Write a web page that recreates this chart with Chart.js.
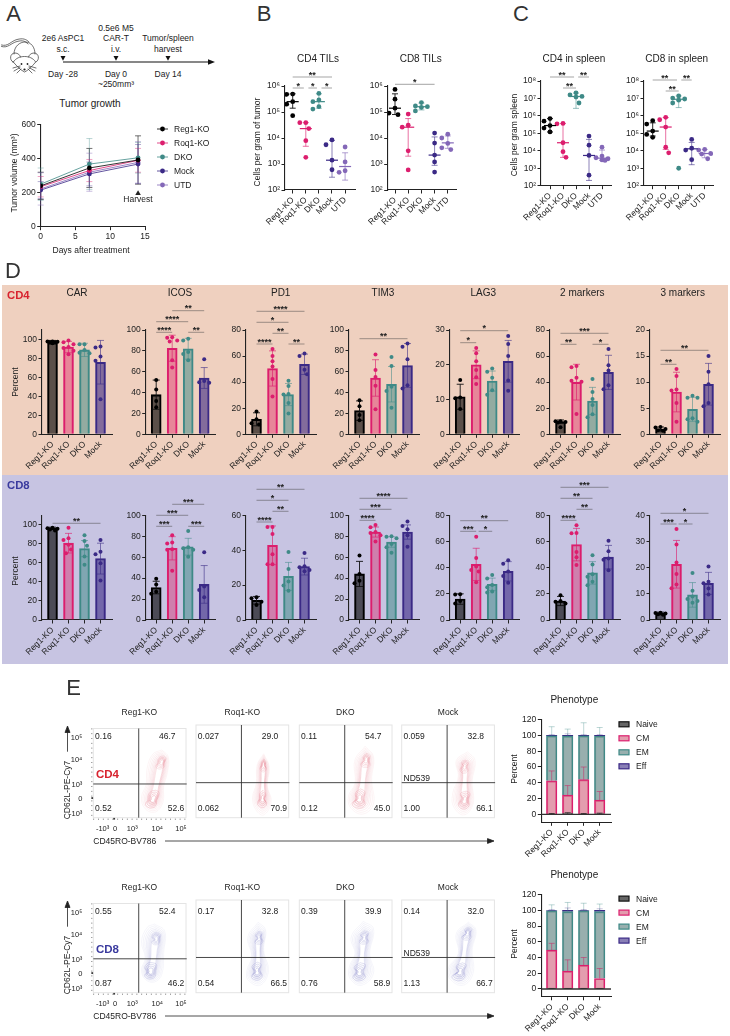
<!doctype html>
<html><head><meta charset="utf-8"><title>CAR-T figure</title>
<script src="https://cdn.jsdelivr.net/npm/chart.js@4"></script>
<style>
html,body{margin:0;padding:0;background:#fff}
#fig{position:relative;width:730px;height:1036px;overflow:hidden;font-family:"Liberation Sans",Arial,sans-serif;color:#222}
#fig canvas,#fig svg,.t,.bg{position:absolute}
.t{white-space:nowrap;line-height:1}
</style></head><body><div id="fig"></div>
<script>
// ---------- categories / ticks ----------
const CATS4=['Reg1-KO','Roq1-KO','DKO','Mock'];
const CATS5=['Reg1-KO','Roq1-KO','DKO','Mock','UTD'];
const STAGES=['Naive','CM','EM','Eff'];
const LOG6_TICKS=[1e2,1e3,1e4,1e5,1e6];
const LOG6_LABELS=['10²','10³','10⁴','10⁵','10⁶'];
const LOG8_TICKS=[1e2,1e3,1e4,1e5,1e6,1e7,1e8];
const LOG8_LABELS=['10²','10³','10⁴','10⁵','10⁶','10⁷','10⁸'];
const T100=[0,20,40,60,80,100], T80=[0,20,40,60,80], T60=[0,20,40,60], T40=[0,10,20,30,40], T30=[0,10,20,30], T20=[0,5,10,15,20], T120=[0,20,40,60,80,100,120];
// ---------- panel A ----------
const A_DAYS=[0,7,14];
const A_REG1=[240,345,392], A_REG1_ERR=[80,115,142];
const A_ROQ1=[235,330,390], A_ROQ1_ERR=[60,65,70];
const A_DKO=[250,368,405], A_DKO_ERR=[95,150,90];
const A_MOCK=[215,310,368], A_MOCK_ERR=[50,70,115];
const A_UTD=[222,320,378], A_UTD_ERR=[95,112,122];
const A_HARVEST=[{x:14,y:195}];
// ---------- panel B ----------
const B_CD4=[[4.9e5,4.8e5,2.5e5,2.0e5,7.2e4],[3.9e4,3.9e4,2.3e4,7.9e3,1.8e3],[5.2e5,2.9e5,2.5e5,1.6e5,1.3e5],[8.4e3,5.5e3,1.4e3,6e2],[4.5e3,1.2e3,5.5e2,4.8e2]];
const B_CD4_MED=[2.5e5,2.3e4,2.5e5,1.4e3,8e2], B_CD4_LO=[1.4e5,4.8e3,1.4e5,3.1e2,2.4e2], B_CD4_HI=[5e5,3.9e4,5e5,8e3,2.7e3];
const B_CD8=[[7.4e5,3.1e5,1.4e5,9.1e4,7.9e4],[8.3e4,3.1e4,2.6e4,3.2e3,5.9e2],[2.3e5,1.7e5,1.6e5,1.5e5,1.1e5],[1.55e4,6.4e3,2.2e3,1.2e3,4.9e2],[1.4e4,1.0e4,6.2e3,4.2e3,3.6e3]];
const B_CD8_MED=[1.4e5,2.6e4,1.6e5,2.2e3,6.5e3], B_CD8_LO=[8e4,2e3,1.2e5,8.9e2,4e3], B_CD8_HI=[5e5,5.6e4,2.2e5,1.1e4,1.2e4];
// ---------- panel C ----------
const C_CD4=[[7e5,5e5,2.8e5,2e5,1.2e5],[3.7e5,3.5e5,2.9e4,8.9e3,4.2e3],[2.1e7,1.6e7,1.3e7,1.2e7,5.5e6],[7e4,2.1e4,5.4e3,4e2],[1.6e4,5e3,4e3,3.5e3,3e3,2.8e3]];
const C_CD4_MED=[2.8e5,2.9e4,1.3e7,5.4e3,3.8e3], C_CD4_LO=[1.2e5,4.2e3,2.7e6,2e2,2.8e3], C_CD4_HI=[7e5,3.7e5,2e7,4.5e4,1.1e4];
const C_CD8=[[5.3e5,3.4e5,1.35e5,8.7e4,5.9e4],[8.3e5,6e5,2.3e5,1.6e4,7.7e3],[1.4e7,1.05e7,9.3e6,8e6,5.5e6,1e3],[4.5e4,1.4e4,1.1e4,3.1e3],[1.2e4,1.1e4,7e3,6.5e3,3.5e3]];
const C_CD8_MED=[1.35e5,2.3e5,9e6,1.3e4,7e3], C_CD8_LO=[7e4,1.2e4,3e6,1.6e3,4e3], C_CD8_HI=[4e5,8e5,1.4e7,3e4,1.2e4];
// ---------- panel D, CD4 ----------
const D4_CAR=[[98,97.5,97,97,96,98],[99,97,95,92,91,88,84.5],[95,95,89,86,85.5],[92.6,91.5,82,77.5,37]];
const D4_CAR_MEAN=[97,92,89,76], D4_CAR_TOP=[99,98,96,99];
const D4_ICOS=[[52,43,32,26],[93,92.5,90,89,71,64],[91.5,90,79,77,71],[72,51,50,49.5]];
const D4_ICOS_MEAN=[38,82.5,82,54], D4_ICOS_TOP=[52,95,92,64];
const D4_PD1=[[17.5,11.5,8.5,7.5],[65.5,60,56,52,42.5,29],[41,37,31,30.5,24,16],[62,60,49.5,46]];
const D4_PD1_MEAN=[11.5,50.5,30.5,53.7], D4_PD1_TOP=[16.5,64,39,61.5];
const D4_TIM3=[[32.6,27,18.5,13.4],[76.6,61.7,55,46.6,24],[74,65.5,45.7,41.5,25.5],[87,84,72,47,44]];
const D4_TIM3_MEAN=[22.7,54,48,66], D4_TIM3_TOP=[32,71.5,65,87];
const D4_LAG3=[[15.6,10.6,10.4,7.3],[24.8,23.3,21,18.5,16.4,14.5],[18.9,18,16.3,12.7,11.4],[28.3,26,22.5,15.5,12.5]];
const D4_LAG3_MEAN=[10.8,20,15.3,21], D4_LAG3_TOP=[14.4,24,18.2,27];
const D4_M2=[[10,10,9.5,9,5.5],[52.4,51.4,43.3,41,40.4,15.6],[42.5,32.5,27,22.5,15.3,13],[65.5,53,49,37.6,34.5]];
const D4_M2_MEAN=[9.7,40,25.5,47.5], D4_M2_TOP=[11,53.7,36,60.6];
const D4_M3=[[1.4,1.3,1,0.8,0.7],[12.5,11.2,8.6,8.4,6,2.4],[7.4,7,7,3.1,2.9,2.4],[15,12,9.6,6,5.4]];
const D4_M3_MEAN=[1,8.1,4.8,9.6], D4_M3_TOP=[1.4,11.9,7.1,13.6];
// ---------- panel D, CD8 ----------
const D8_CAR=[[97,96.5,96,95,94],[97,86,84,79,74,70],[89,83,78,66.7,58],[84,71.6,69,59.6,41.4]];
const D8_CAR_MEAN=[96.5,80.7,75,64.5], D8_CAR_TOP=[97.5,91,83.5,80.7];
const D8_ICOS=[[39.5,34,27,25],[81,74,73,67.5,67,47],[85,69.4,68.5,67,60.5],[64.6,32,28.7,21.7]];
const D8_ICOS_MEAN=[31,68.5,70,34], D8_ICOS_TOP=[37,79.6,78,52];
const D8_PD1=[[13,12.4,10.5,8.6],[53.3,53.3,49.3,37.7,32,32],[39,29.2,22,19.7,16.8],[38.4,30.8,30.2,28.7,28]];
const D8_PD1_MEAN=[11.3,42.8,25,30.6], D8_PD1_TOP=[13.5,53.9,33,35.4];
const D8_TIM3=[[61.5,44,37.6,35],[90.8,88.5,84,83,81,75],[80,79.6,78,72.6,69.4,64.3],[94,89.8,86.6,81,70]];
const D8_TIM3_MEAN=[44,84,74.5,84], D8_TIM3_TOP=[56,88.8,79.5,90.8];
const D8_LAG3=[[19.7,19.5,14.5,12.7],[63.7,47.4,40.8,38.2,37,28.8],[34.4,31.8,26.8,25,21.7,21],[45.6,43,37,33.6,28.5]];
const D8_LAG3_MEAN=[16,42.5,27.3,37.2], D8_LAG3_TOP=[20,54.8,32,44.6];
const D8_M2=[[19,14.5,14,12.7],[72.4,66.5,66.2,52,48,42],[49.4,42.5,35,33,29.3,26.5],[60.6,52.5,47,46,38]];
const D8_M2_MEAN=[14.5,57.6,36,48], D8_M2_TOP=[18,70,44.6,57];
const D8_M3=[[2.8,2.7,2.5,2.2,2],[34.8,28.8,22,17.6,13.6,12.1],[18,11.2,9,8,7.3,6.6],[20.4,14.6,14,12,9.7]];
const D8_M3_MEAN=[2.5,21.3,9.6,14], D8_M3_TOP=[3,30.4,14.3,18.2];
// ---------- panel E, stacked phenotype ----------
const E4_NAIVE=[0.5,1,0.5,0.7], E4_CM=[42,23.5,43.5,17.5], E4_EM=[56.8,74.5,55.3,81], E4_EFF=[0.7,1,0.7,0.8];
const E4_TOPS=[[1,2,1,1.5],[55,36.5,60,29],[111,108,116,110],[101,102,101,101]];
const E8_NAIVE=[0.3,0.3,0.3,0.3], E8_CM=[49,22.5,30,13], E8_EM=[50,75.5,69,85], E8_EFF=[0.7,1.7,0.7,1.7];
const E8_TOPS=[[0.6,0.6,0.6,0.6],[58,37,40,26],[107,110,109,108],[101,103,101,102]];
// ---------- panel E, quadrant percentages ----------
const E4_QUAD=[['0.16','46.7','0.52','52.6'],['0.027','29.0','0.062','70.9'],['0.11','54.7','0.12','45.0'],['0.059','32.8','1.00','66.1']];
const E8_QUAD=[['0.55','52.4','0.87','46.2'],['0.17','32.8','0.54','66.5'],['0.39','39.9','0.76','58.9'],['0.14','32.0','1.13','66.7']];
// outer contour outlines and density peaks, in percent of the plot box
const E4_OUT=[
 [[74,76],[81,68],[80,51],[76,35],[75,17],[67,6.5],[56,10],[52,23],[57,37],[58,55],[64,71]],
 [[73,69],[79,55],[77,35],[81,17],[73,3],[65,8],[61,21],[65,37],[66,57]],
 [[71,77],[80,66],[78,41],[80,15],[69,4],[56,10],[53,23],[60,37],[60,62]],
 [[71,71],[79,62],[76,39],[77,15],[67,3],[56,12],[55,26],[61,44],[59,62]]];
const E4_PEAK=[[[74,62],[65,21]],[[73,57],[72,21]],[[72,62],[65,21]],[[68,55],[68,19]]];
const E8_OUT=[
 [[66,77],[77,69],[76,46],[74,21],[66,12],[56,15],[52,26],[56,39],[52,57],[58,73]],
 [[67,76],[75,68],[73,46],[78,23],[69,8],[56,14],[55,24],[60,39],[56,60]],
 [[69,77],[80,69],[76,42],[80,21],[67,8],[55,15],[54,28],[60,42],[56,60]],
 [[72,76],[80,68],[76,46],[77,21],[66,8],[52,15],[50,26],[61,42],[59,64]]];
const E8_PEAK=[[[68,60],[62,24]],[[68,59],[66,23]],[[70,59],[65,22]],[[71,64],[63,23]]];
const FLOW_X=[10,23.4,42,69,94.6], FLOW_X_LABELS=['-10³','0','10³','10⁴','10⁵'];
const FLOW_Y=[4,21,37,65,89], FLOW_Y_LABELS=['-10³','0','10³','10⁴','10⁵'];
const FLOW_EVENTS=[{x:-1,y:22},{x:22.5,y:-1}];
// ---------- significance brackets: from group, to group, line height on page, stars ----------
const SIG_B4=[[0,3,77,'**'],[0,.85,88,'*'],[1.2,1.85,88,'*'],[2.2,3,88,'*']];
const SIG_B8=[[0,3,84.3,'*']];
const SIG_C4=[[0,1.85,77,'**'],[2.17,3,77,'**'],[1,2,88,'**']];
const SIG_C8=[[0,1.87,80,'**'],[2.2,3,80,'**'],[1,2,91,'**']];
const SIG4_ICOS=[[1,3,310.7,'**'],[0,2,321.7,'****'],[0,1,332.3,'****'],[2,3,332.3,'**']];
const SIG4_PD1=[[0,3,311.3,'****'],[0,2,322.3,'*'],[1,2,333.3,'**'],[0,1,344,'****'],[2,3,344,'**']];
const SIG4_TIM3=[[0,3,338.7,'**']];
const SIG4_LAG3=[[0,3,330.7,'*'],[0,1,342.7,'*']];
const SIG4_M2=[[0,3,333.3,'***'],[0,1,344.3,'**'],[2,3,344.3,'*']];
const SIG4_M3=[[0,3,350.3,'**'],[0,1,364.3,'**']];
const SIG8_CAR=[[0,3,523.3,'**']];
const SIG8_ICOS=[[1,3,504.3,'***'],[0,2,515.3,'***'],[0,1,526.3,'***'],[2,3,526.3,'***']];
const SIG8_PD1=[[0,3,489.3,'**'],[0,2,500.3,'*'],[1,2,511.3,'**'],[0,1,522,'****']];
const SIG8_TIM3=[[0,3,498.3,'****'],[0,2,509.3,'***'],[0,1,520.3,'****']];
const SIG8_LAG3=[[0,3,520.7,'**'],[0,1,531.3,'***'],[1.15,2,531.3,'*']];
const SIG8_M2=[[0,3,487.3,'***'],[0,2,498.3,'**'],[1,2,509.3,'**'],[0,1,520.3,'****']];
const SIG8_M3=[[0,3,513.3,'*'],[0,1,524,'***'],[1.13,2,524,'*']];

// ---------- styling ----------
const INK=['#000000','#dc1e6e','#3f8a87','#3b2a86','#8468b8'];
const FILL=['rgba(0,0,0,.62)','rgba(220,30,100,.42)','rgba(63,138,135,.52)','rgba(59,42,134,.6)'];
const ERR=['#111','rgba(220,30,110,.7)','rgba(63,138,135,.6)','rgba(59,42,134,.65)','rgba(132,104,184,.7)'];
const STACK_INK=['#111','#dc1e6e','#3f8a87','#3b2a86'];
const STACK_FILL=['rgba(0,0,0,.6)','rgba(214,110,135,.68)','rgba(120,150,148,.76)','rgba(59,42,134,.6)'];
const STACK_ERR=['#222','rgba(200,40,100,.6)','rgba(63,138,135,.38)','rgba(59,42,134,.3)'];
const FONT='"Liberation Sans", Arial, sans-serif';
Chart.defaults.font.family=FONT; Chart.defaults.font.size=8.5; Chart.defaults.color='#222';
const fig=document.getElementById('fig');
function txt(x,y,s,o={}){const d=document.createElement('div');d.className='t';d.textContent=s;
 const tx=o.align==='l'?'0':o.align==='r'?'-100%':'-50%';
 d.style.cssText=`left:${x}px;top:${y}px;font-size:${o.size||8.5}px;color:${o.color||'#222'};font-weight:${o.weight||'normal'};transform:translate(${tx},-50%)${o.rot?` rotate(${o.rot}deg)`:''};z-index:5`;
 d.textContent=s;fig.appendChild(d);}
function bg(x,y,w,h,c){const d=document.createElement('div');d.className='bg';d.style.cssText=`left:${x}px;top:${y}px;width:${w}px;height:${h}px;background:${c}`;fig.appendChild(d);}

function frame(L,R,top,bot,yW,padTop,padR,xH){
 const left=Math.floor(L-yW), tp=Math.floor(top-padTop);
 const w=Math.ceil(R+padR-left), h=Math.ceil(bot+xH-tp);
 const c=document.createElement('canvas');c.width=w;c.height=h;
 c.style.cssText=`left:${left}px;top:${tp}px;width:${w}px;height:${h}px`;fig.appendChild(c);
 return {c,left,top:tp,yW:L-left,padTop:top-tp,padR:w-(R-left),xH:h-(bot-tp)};
}
function axis(f,horizontal,ticks,labels,extra={}){
 const s=Object.assign({offset:false,grid:{offset:false,drawOnChartArea:false,drawTicks:true,tickLength:3.5,color:'#222',lineWidth:1},
  border:{color:'#222',width:1.1},
  afterBuildTicks:a=>{a.ticks=ticks.map(value=>({value}));},
  afterFit:a=>{if(horizontal)a.height=f.xH;else a.width=f.yW;},
  ticks:{autoSkip:false,padding:1.5,color:'#222',font:{size:8.5},includeBounds:false,callback:labels?((v,i)=>labels[i]):(v=>v)}},extra);
 if(horizontal){s.ticks.minRotation=45;s.ticks.maxRotation=45;}
 return s;
}
function build(f,datasets,sx,sy,plugin){
 return new Chart(f.c,{type:'scatter',data:{datasets},plugins:plugin?[plugin]:[],
  options:{responsive:false,animation:false,devicePixelRatio:1,events:[],
   layout:{autoPadding:false,padding:{top:f.padTop,right:f.padR,left:0,bottom:0}},
   plugins:{legend:{display:false},title:{display:false},tooltip:{enabled:false}},
   scales:{x:sx,y:sy}}});
}
function drawBrackets(ctx,chart,sig,f){
 const X=chart.scales.x;ctx.save();
 for(const [a,b,y,s] of sig){const yy=y-f.top;
  ctx.strokeStyle='rgba(70,70,70,.62)';ctx.lineWidth=.8;ctx.beginPath();ctx.moveTo(X.getPixelForValue(a),yy);ctx.lineTo(X.getPixelForValue(b),yy);ctx.stroke();
  ctx.fillStyle='#222';ctx.font=`bold 9px ${FONT}`;ctx.textAlign='center';ctx.textBaseline='alphabetic';
  ctx.fillText(s,(X.getPixelForValue(a)+X.getPixelForValue(b))/2,yy+.5);}
 ctx.restore();
}
function vErr(ctx,x,y1,y2,cap,color,lw){ctx.strokeStyle=color;ctx.lineWidth=lw;ctx.beginPath();ctx.moveTo(x,y1);ctx.lineTo(x,y2);
 ctx.moveTo(x-cap,y1);ctx.lineTo(x+cap,y1);ctx.moveTo(x-cap,y2);ctx.lineTo(x+cap,y2);ctx.stroke();}
// spreads points of one group sideways so that they do not overlap, like a Prism swarm
function swarm(vals,px,step,r,maxPx){
 const order=vals.map((v,i)=>({y:px(v),i})).sort((a,b)=>a.y-b.y), out=[],placed=[];
 const inc=r*1.25,cands=[0];for(let k=1;k*inc<=maxPx;k++){cands.push(k%2?k*inc:-k*inc);cands.push(k%2?-k*inc:k*inc);}
 order.forEach(p=>{let best=0,bestD=-1;
  for(const c of cands){let d=1e9;for(const q of placed)d=Math.min(d,Math.hypot(c-q.x,p.y-q.y));
   if(d>=2*r*1.3){best=c;bestD=1e9;break;} if(d>bestD){bestD=d;best=c;}}
  placed.push({x:best,y:p.y});out[p.i]=best/step;});
 return out;
}
// ---------- bar + dots panel (D) ----------
function barPanel(L,top,bot,ymax,ticks,pts,mean,tops,sig){
 const R=L+70,c0=L+10.5,step=16,f=frame(L,R,top,bot,40,48,4,46),H=bot-top,px=v=>bot-v/ymax*H;
 const dots=[],colors=[];
 pts.forEach((g,i)=>{const off=swarm(g,px,step,2,5.5);g.forEach((v,j)=>{dots.push({x:i+off[j],y:v});colors.push(INK[i]);});});
 const bars={type:'bar',order:2,data:mean.map((y,x)=>({x,y})),backgroundColor:FILL,borderColor:INK,borderWidth:1.4,barThickness:10};
 const pt={type:'scatter',order:1,data:dots,pointRadius:2,pointBackgroundColor:colors,pointBorderWidth:0};
 build(f,[bars,pt],axis(f,true,[0,1,2,3],CATS4,{min:-10.5/16,max:59.5/16}),axis(f,false,ticks,null,{min:0,max:ymax}),{id:'ov',
  afterDatasetDraw(ch,a){if(a.index!==0)return;const X=ch.scales.x,Y=ch.scales.y,ctx=ch.ctx;ctx.save();
   mean.forEach((m,i)=>{const e=tops[i]-m;vErr(ctx,X.getPixelForValue(i),Y.getPixelForValue(m+e),Y.getPixelForValue(Math.max(0,m-e)),3.5,ERR[i],.9);});ctx.restore();},
  afterDatasetsDraw(ch){drawBrackets(ch.ctx,ch,sig||[],f);}});
}
// ---------- log swarm panel (B, C) ----------
function swarmPanel(L,R,top,bot,c0,step,lmin,lmax,ticks,labels,pts,med,lo,hi,sig){
 const f=frame(L,R,top,bot,40,26,4,46),H=bot-top,px=v=>bot-(Math.log10(v)-lmin)/(lmax-lmin)*H;
 const dots=[],colors=[];
 pts.forEach((g,i)=>{const off=swarm(g,px,step,2.4,6.5);g.forEach((v,j)=>{dots.push({x:i+off[j],y:v});colors.push(INK[i]);});});
 const pt={type:'scatter',data:dots,pointRadius:2.4,pointBackgroundColor:colors,pointBorderWidth:0};
 build(f,[pt],axis(f,true,[0,1,2,3,4],CATS5,{min:-(c0-L)/step,max:(R-c0)/step}),axis(f,false,ticks,labels,{type:'logarithmic',min:10**lmin,max:10**lmax}),{id:'ov',
  afterDatasetsDraw(ch){const X=ch.scales.x,Y=ch.scales.y,ctx=ch.ctx;ctx.save();
   med.forEach((m,i)=>{const x=X.getPixelForValue(i),y=Y.getPixelForValue(m);vErr(ctx,x,Y.getPixelForValue(hi[i]),Y.getPixelForValue(lo[i]),3,ERR[i],.9);
    ctx.strokeStyle=INK[i];ctx.lineWidth=1.2;ctx.beginPath();ctx.moveTo(x-6,y);ctx.lineTo(x+6,y);ctx.stroke();});
   ctx.restore();drawBrackets(ctx,ch,sig||[],f);}});
}
// ---------- stacked phenotype panel ----------
function stackPanel(top,bot,series,tops){
 const L=541.3,R=611,f=frame(L,R,top,bot,40,4,30,46);
 const ds=series.map((vals,k)=>({type:'bar',stack:'s',data:vals.map((y,x)=>({x,y})),backgroundColor:STACK_FILL[k],borderColor:STACK_INK[k],borderWidth:1.3,barThickness:10.5}));
 const sx=axis(f,true,[0,1,2,3],CATS4,{min:-10.4/16,max:59.3/16});
 const sy=axis(f,false,T120,null,{min:-10,max:120,stacked:true});
 build(f,ds,sx,sy,{id:'ov',
  afterDatasetsDraw(ch){const Y=ch.scales.y,X=ch.scales.x,ctx=ch.ctx;ctx.save();
   tops.forEach((t,k)=>{series[k].forEach((_,i)=>{let cum=0;for(let q=0;q<=k;q++)cum+=series[q][i];
     const x=X.getPixelForValue(i);ctx.strokeStyle=STACK_ERR[k];ctx.lineWidth=.9;ctx.beginPath();ctx.moveTo(x,Y.getPixelForValue(cum));ctx.lineTo(x,Y.getPixelForValue(t[i]));
     ctx.moveTo(x-3,Y.getPixelForValue(t[i]));ctx.lineTo(x+3,Y.getPixelForValue(t[i]));ctx.stroke();});});
   ctx.strokeStyle='#333';ctx.lineWidth=1.4;ctx.beginPath();ctx.moveTo(X.left,Y.getPixelForValue(0));ctx.lineTo(X.right,Y.getPixelForValue(0));ctx.stroke();
   STAGES.forEach((s,k)=>{const y=top+6.6+14*k-f.top;ctx.fillStyle=STACK_FILL[k];ctx.strokeStyle=STACK_INK[k];ctx.lineWidth=1.2;ctx.fillRect(619-f.left,y-2.5,10,5);ctx.strokeRect(619-f.left,y-2.5,10,5);});
   ctx.restore();}});
 STAGES.forEach((s,k)=>txt(636,top+6.6+14*k,s,{align:'l'}));
}
// ---------- flow contour panel ----------
const LEVELS=[0,.12,.24,.35,.45,.54,.62,.7];
const RINGS=[.34,.27,.2,.13];
function contours(outline,peaks,rgb){
 const [p,q]=peaks,dx=q[0]-p[0],dy=q[1]-p[1],len=dx*dx+dy*dy;
 const mid=[(p[0]+q[0])/2,(p[1]+q[1])/2];
 const line=(pts,a)=>({type:'line',data:pts,borderColor:`rgba(${rgb},${a})`,borderWidth:.6,pointRadius:0,tension:.42,fill:false});
 const sets=LEVELS.map((t,i)=>{const pts=outline.map(([x,y])=>{let u=((x-p[0])*dx+(y-p[1])*dy)/len;u=Math.max(0,Math.min(1,u));
   const nx=p[0]+u*dx,ny=p[1]+u*dy;return {x:x+t*(nx-x),y:y+t*(ny-y)};});pts.push(pts[0]);
  return line(pts,.1+.028*i);});
 peaks.forEach((pk,j)=>RINGS.forEach((s,i)=>{const w=j===1?1.35:1;const pts=outline.map(([x,y])=>({x:pk[0]+(x-mid[0])*s*w*1.1,y:pk[1]+(y-mid[1])*s*w*.62}));pts.push(pts[0]);
  sets.push(line(pts,(j===1?.34:.24)+.04*i));}));
 return sets;
}
function flowPanel(bx,by,i,out,peaks,rgb,quadY,nums,first,nd){
 const W=92.7,f=frame(bx,bx+W,by,by+W,36,4,6,22);
 const events=first?[{type:'scatter',data:FLOW_EVENTS,pointStyle:'rect',pointRadius:1.3,backgroundColor:'#111',pointBorderWidth:0,clip:false}]:[];
 const sx=axis(f,true,first?FLOW_X:[],FLOW_X_LABELS,{min:0,max:100});sx.ticks.minRotation=0;sx.ticks.maxRotation=0;
 const sy=axis(f,false,first?FLOW_Y:[],FLOW_Y_LABELS,{min:0,max:100});
 [sx,sy].forEach(s=>{s.grid={display:false};s.border={display:false};s.ticks.font={size:7.5};s.ticks.padding=first?3:0;});
 sx.ticks.padding=-1;
 build(f,[...events,...contours(out,peaks,rgb)],sx,sy,{id:'ov',
  afterDatasetsDraw(ch){const a=ch.chartArea,X=ch.scales.x,Y=ch.scales.y,ctx=ch.ctx;ctx.save();
   ctx.strokeStyle='#e4e4e4';ctx.lineWidth=1;ctx.strokeRect(a.left,a.top,a.right-a.left,a.bottom-a.top);
   ctx.strokeStyle='#333';ctx.lineWidth=.9;ctx.beginPath();
   ctx.moveTo(X.getPixelForValue(49),a.top);ctx.lineTo(X.getPixelForValue(49),a.bottom);
   ctx.moveTo(a.left,Y.getPixelForValue(quadY));ctx.lineTo(a.right+.7,Y.getPixelForValue(quadY));ctx.stroke();
   if(first){ctx.strokeStyle='#444';ctx.setLineDash([.8,4]);ctx.beginPath();ctx.moveTo(a.left,a.bottom+1.5);ctx.lineTo(a.right,a.bottom+1.5);
    ctx.moveTo(a.left-1.5,a.top);ctx.lineTo(a.left-1.5,a.bottom);ctx.stroke();}
   ctx.restore();}});
 txt(bx+1.8,by+10.7,nums[0],{align:'l'});txt(bx+82.3,by+10.7,nums[1],{align:'r'});
 txt(bx+1.8,by+82.7,nums[2],{align:'l'});txt(bx+91,by+82.7,nums[3],{align:'r'});
 if(nd)txt(bx+1.8,by+52.5,'ND539',{align:'l'});
}

// ========== page ==========
bg(2,285,726,190,'#efd0bf');bg(2,475,726,189,'#c7c4e2');
const NS='http://www.w3.org/2000/svg',svg=document.createElementNS(NS,'svg');
svg.setAttribute('width',730);svg.setAttribute('height',1036);svg.style.left='0';svg.style.top='0';
svg.innerHTML=`
<g fill="none" stroke="#333" stroke-width=".7" stroke-linecap="round">
 <path d="M1.5 45 C8 47 11 41 17 39.5 S26 39 29 42"/><path d="M1.5 46.5 C8 48.5 11 43 17 41.5 S25 41 28 44"/>
 <path d="M14 54 C14 46 20 42 25 42 C31 42 35 47 35 54"/>
 <path d="M13 62 C9 60 10 53 15 53 C18 53 20 55 20.5 57"/><path d="M36 62 C40 60 39 53 34 53 C31 53 29 55 28.5 57"/>
 <path d="M13.3 62 C15 64 20 70 24.500 72 C29 70 34 64 35.700 62 C33 58 29 56.500 24.500 56.500 C20 56.500 16 58 13.300 62Z"/>
 <path d="M20 66 L13 68 M20 67.500 L14 71 M21 69 L17 73 M29 66 L36 68 M29 67.500 L35 71 M28 69 L32 73"/>
</g>
<circle cx="21.500" cy="64" r=".9" fill="#222"/><circle cx="27.500" cy="64" r=".9" fill="#222"/><circle cx="24.500" cy="69.500" r="1.1" fill="#222"/>
<path d="M63 62 H209" stroke="#111" stroke-width="1.1"/><path d="M215 62 L208 59.300 V64.700Z" fill="#111"/>
<path d="M60.500 56 H65.500 L63 60.800Z M113.500 56 H118.500 L116 60.800Z M165.500 56 H170.500 L168 60.800Z" fill="#111"/>
<g stroke="#222" stroke-width=".8" fill="#222">
 <path d="M67.500 751.700 V731" fill="none"/><path d="M67.500 726 L65 732.500 H70Z"/>
 <path d="M67.500 926.700 V906" fill="none"/><path d="M67.500 901 L65 907.500 H70Z"/>
 <path d="M165 841 H489" fill="none"/><path d="M494 841 L487.500 838.600 V843.400Z"/>
 <path d="M165 1016 H489" fill="none"/><path d="M494 1016 L487.500 1013.600 V1018.400Z"/>
</g>`;
fig.appendChild(svg);

// panel letters
[['A',13.5,14],['B',264,13.5],['C',521,13.5],['D',13,271],['E',73.7,688]].forEach(([s,x,y])=>txt(x,y,s,{size:22,color:'#333'}));
// schematic text
[[63,38,'2e6 AsPC1'],[63,49,'s.c.'],[116,28,'0.5e6 M5'],[116,38,'CAR-T'],[116,49,'i.v.'],[168,38,'Tumor/spleen'],[168,49,'harvest'],[63,74,'Day -28'],[116,74,'Day 0'],[116,84,'~250mm³'],[168,74,'Day 14']].forEach(([x,y,s])=>txt(x,y,s));

// ---------- A: tumor growth ----------
(function(){
 const L=40.7,R=145,top=122,bot=226.7,f=frame(L,R,top,bot,34,4,72,20);
 const names=CATS5,vals=[A_REG1,A_ROQ1,A_DKO,A_MOCK,A_UTD],errs=[A_REG1_ERR,A_ROQ1_ERR,A_DKO_ERR,A_MOCK_ERR,A_UTD_ERR];
 const ds=vals.map((v,k)=>({type:'line',data:v.map((y,i)=>({x:A_DAYS[i],y})),borderColor:INK[k],borderWidth:.8,pointRadius:2.4,pointBackgroundColor:INK[k],pointBorderWidth:0,tension:0}));
 ds.push({type:'scatter',data:A_HARVEST,pointStyle:'triangle',pointRadius:3.2,pointBackgroundColor:'#222',pointBorderWidth:0});
 const sx=axis(f,true,[0,5,10,15],null,{min:0,max:15});sx.ticks.minRotation=0;sx.ticks.maxRotation=0;
 build(f,ds,sx,axis(f,false,[0,200,400,600],null,{min:0,max:600}),{id:'ov',
  beforeDatasetsDraw(ch){const X=ch.scales.x,Y=ch.scales.y,ctx=ch.ctx;ctx.save();
   vals.forEach((v,k)=>v.forEach((m,i)=>vErr(ctx,X.getPixelForValue(A_DAYS[i]),Y.getPixelForValue(m+errs[k][i]),Y.getPixelForValue(m-errs[k][i]),3,ERR[k],.6)));ctx.restore();},
  afterDatasetsDraw(ch){const ctx=ch.ctx;ctx.save();names.forEach((n,k)=>{const y=129+14*k-f.top,x=157-f.left;
    ctx.strokeStyle=INK[k];ctx.lineWidth=.8;ctx.beginPath();ctx.moveTo(x,y);ctx.lineTo(x+11,y);ctx.stroke();
    ctx.fillStyle=INK[k];ctx.beginPath();ctx.arc(x+5.5,y,2.4,0,7);ctx.fill();});ctx.restore();}});
 names.forEach((n,k)=>txt(174,129+14*k,n,{align:'l'}));
 txt(90,104,'Tumor growth',{size:10});txt(14,173,'Tumor volume (mm³)',{rot:-90});txt(91,250,'Days after treatment');txt(138,199,'Harvest');
})();

// ---------- B, C ----------
swarmPanel(285,355,86,190,292.7,13.1,2,6,LOG6_TICKS,LOG6_LABELS,B_CD4,B_CD4_MED,B_CD4_LO,B_CD4_HI,SIG_B4);
swarmPanel(387.7,456.7,86,190,395,13.2,2,6,LOG6_TICKS,LOG6_LABELS,B_CD8,B_CD8_MED,B_CD8_LO,B_CD8_HI,SIG_B8);
swarmPanel(541,611,81,185.7,550,13,2,8,LOG8_TICKS,LOG8_LABELS,C_CD4,C_CD4_MED,C_CD4_LO,C_CD4_HI,SIG_C4);
swarmPanel(644,713,81,185.7,652.7,13,2,8,LOG8_TICKS,LOG8_LABELS,C_CD8,C_CD8_MED,C_CD8_LO,C_CD8_HI,SIG_C8);
txt(318,59,'CD4 TILs',{size:10});txt(420.7,59,'CD8 TILs',{size:10});txt(574,59,'CD4 in spleen',{size:10});txt(676.7,59,'CD8 in spleen',{size:10});
txt(257,142,'Cells per gram of tumor',{rot:-90});txt(514,135,'Cells per gram spleen',{rot:-90});

// ---------- D ----------
const DL=[42,145.7,246,349,449.7,550,650];
const DTITLES=['CAR','ICOS','PD1','TIM3','LAG3','2 markers','3 markers'];
const DTX=[77,180,280.7,383,483.3,582.3,682.7];
DTITLES.forEach((s,i)=>txt(DTX[i],293,s,{size:10}));
txt(7,295.7,'CD4',{align:'l',size:11.3,weight:'bold',color:'#d8232f'});
txt(7,485.7,'CD8',{align:'l',size:11.3,weight:'bold',color:'#3a3a9e'});
txt(15,382,'Percent',{rot:-90});txt(15,571,'Percent',{rot:-90});
[[DL[0],110,T100,D4_CAR,D4_CAR_MEAN,D4_CAR_TOP,[]],[DL[1],100,T100,D4_ICOS,D4_ICOS_MEAN,D4_ICOS_TOP,SIG4_ICOS],[DL[2],80,T80,D4_PD1,D4_PD1_MEAN,D4_PD1_TOP,SIG4_PD1],
 [DL[3],100,T100,D4_TIM3,D4_TIM3_MEAN,D4_TIM3_TOP,SIG4_TIM3],[DL[4],30,T30,D4_LAG3,D4_LAG3_MEAN,D4_LAG3_TOP,SIG4_LAG3],[DL[5],80,T80,D4_M2,D4_M2_MEAN,D4_M2_TOP,SIG4_M2],[DL[6],20,T20,D4_M3,D4_M3_MEAN,D4_M3_TOP,SIG4_M3]]
 .forEach(p=>barPanel(p[0],330,434.3,p[1],p[2],p[3],p[4],p[5],p[6]));
[[DL[0],110,T100,D8_CAR,D8_CAR_MEAN,D8_CAR_TOP,SIG8_CAR],[DL[1],100,T100,D8_ICOS,D8_ICOS_MEAN,D8_ICOS_TOP,SIG8_ICOS],[DL[2],60,T60,D8_PD1,D8_PD1_MEAN,D8_PD1_TOP,SIG8_PD1],
 [DL[3],100,T100,D8_TIM3,D8_TIM3_MEAN,D8_TIM3_TOP,SIG8_TIM3],[DL[4],80,T80,D8_LAG3,D8_LAG3_MEAN,D8_LAG3_TOP,SIG8_LAG3],[DL[5],80,T80,D8_M2,D8_M2_MEAN,D8_M2_TOP,SIG8_M2],[DL[6],40,T40,D8_M3,D8_M3_MEAN,D8_M3_TOP,SIG8_M3]]
 .forEach(p=>barPanel(p[0],515.3,620,p[1],p[2],p[3],p[4],p[5],p[6]));

// ---------- E ----------
const BOX=[93.3,196,299.3,401.7],BOXT=[139.3,242.3,345.3,448];
[[725,E4_OUT,E4_PEAK,'222,90,110',37.8,E4_QUAD],[900,E8_OUT,E8_PEAK,'110,110,190',38,E8_QUAD]].forEach(([by,out,peak,rgb,qy,nums])=>{
 CATS4.forEach((c,i)=>{txt(BOXT[i],by-13,c);flowPanel(BOX[i],by,i,out[i],peak[i],rgb,qy,nums[i],i===0,i===3);});
 txt(67,by+65,'CD62L-PE-Cy7',{rot:-90});
 txt(93.3,by+116,'CD45RO-BV786',{align:'l'});
});
txt(96,775,'CD4',{align:'l',size:11.5,weight:'bold',color:'#d8232f'});
txt(96,949.5,'CD8',{align:'l',size:11.5,weight:'bold',color:'#3a3a9e'});
stackPanel(717.7,822.3,[E4_NAIVE,E4_CM,E4_EM,E4_EFF],E4_TOPS);
stackPanel(892,996.8,[E8_NAIVE,E8_CM,E8_EM,E8_EFF],E8_TOPS);
txt(574.3,700,'Phenotype',{size:10});txt(574.3,874.7,'Phenotype',{size:10});
txt(514,769,'Percent',{rot:-90});txt(514,943.5,'Percent',{rot:-90});
</script></body></html>
